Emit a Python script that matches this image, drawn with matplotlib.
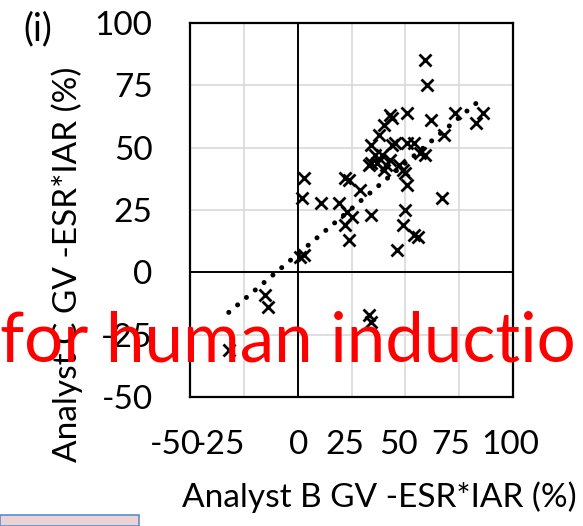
import numpy as np
import matplotlib
matplotlib.use('Agg')
import matplotlib.pyplot as plt
import matplotlib.transforms as mtransforms
from matplotlib.patches import Rectangle

# values
analyst_b = [59, 60, 51, 43, 44, 62, 73, 86, 83, 68,
             40, 38, 34, 36, 44, 45, 51, 54, 57, 59,
             43, 37, 33, 41, 47, 49, 50, 51, 67, 50,
             49, 54, 56, 46, 34, 39, 40,
             3, 2, 11, 22, 24, 29, 19, 23, 25, 34, 22, 24,
             3, 1, -15, -14, 33, 34, -32]
analyst_c = [85, 75, 64, 63, 62, 61, 64, 64, 60, 55,
             59, 55, 51, 47, 51, 52, 52, 52, 48, 47,
             45, 44, 43, 43, 43, 41, 40, 35, 30, 25,
             19, 15, 14, 9, 44, 47, 41,
             38, 30, 28, 38, 37, 33, 28, 24, 22, 23, 19, 13,
             7, 6, -9, -14, -17, -20, -31]
trend_slope = 0.73
trend_intercept = 7.3

ticks = [-50, -25, 0, 25, 50, 75, 100]
tick_labels = ['-50', '-25', '0', '25', '50', '75', '100']
xlabel_shift_px = [-15, -24, 1, -7, -7, -9, -3]

plt.rcParams['font.family'] = ['Lato', 'DejaVu Sans']

W, H = 583, 526
fig = plt.figure(figsize=(W / 100, H / 100), dpi=100)
ax = fig.add_axes([190 / W, 129 / H, 323 / W, 374 / H])

ax.set_xlim(-50, 100)
ax.set_ylim(-50, 100)
ax.set_xticks(ticks)
ax.set_yticks(ticks)
ax.set_xticklabels(tick_labels)
ax.set_yticklabels(tick_labels)
ax.tick_params(length=0, labelsize=24, colors='black')
ax.tick_params(axis='y', pad=27)
ax.tick_params(axis='x', pad=24)
for lab, dx in zip(ax.get_xticklabels(), xlabel_shift_px):
    lab.set_transform(lab.get_transform() + mtransforms.ScaledTranslation(dx / 100, 0, fig.dpi_scale_trans))

ax.grid(True, color='#d9d9d9', linewidth=1.2)
ax.set_axisbelow(True)
for s in ax.spines.values():
    s.set_linewidth(1.6)
    s.set_color('black')
ax.axhline(0, color='black', linewidth=1.4, zorder=2)
ax.axvline(0, color='black', linewidth=1.4, zorder=2)

# linear trendline over the data range
xs = np.linspace(min(analyst_b), max(analyst_b), 200)
ax.plot(xs, trend_slope * xs + trend_intercept, color='black', linewidth=3.6,
        linestyle=(0, (0.01, 2.3)), dash_capstyle='round', zorder=3)

ax.plot(analyst_b, analyst_c, linestyle='none', marker='x', color='black',
        markersize=9, markeredgewidth=2.0, zorder=4)

fig.text(67 / W, 1 - 264 / H, 'Analyst C GV -ESR*IAR (%)', rotation=90,
         ha='center', va='center', fontsize=24)
fig.text(379 / W, 1 - 497 / H, 'Analyst B GV -ESR*IAR (%)',
         ha='center', va='center', fontsize=24)
fig.text(38 / W, 1 - 29 / H, '(i)', ha='center', va='center', fontsize=27)

fig.patches.append(Rectangle((0, 0), 139 / W, 11 / H, transform=fig.transFigure,
                             facecolor='#ecd3d3', edgecolor='#5b8bd0', linewidth=1.2))

wm = fig.text(0, 1 - 362 / H, 'for human inductio', color='red', fontsize=50,
              ha='left', va='baseline', zorder=10)
r = fig.canvas.get_renderer()
bw = wm.get_window_extent(r).width
wm.set_fontsize(50 * 575 / bw)

fig.savefig('out.png', dpi=100)
